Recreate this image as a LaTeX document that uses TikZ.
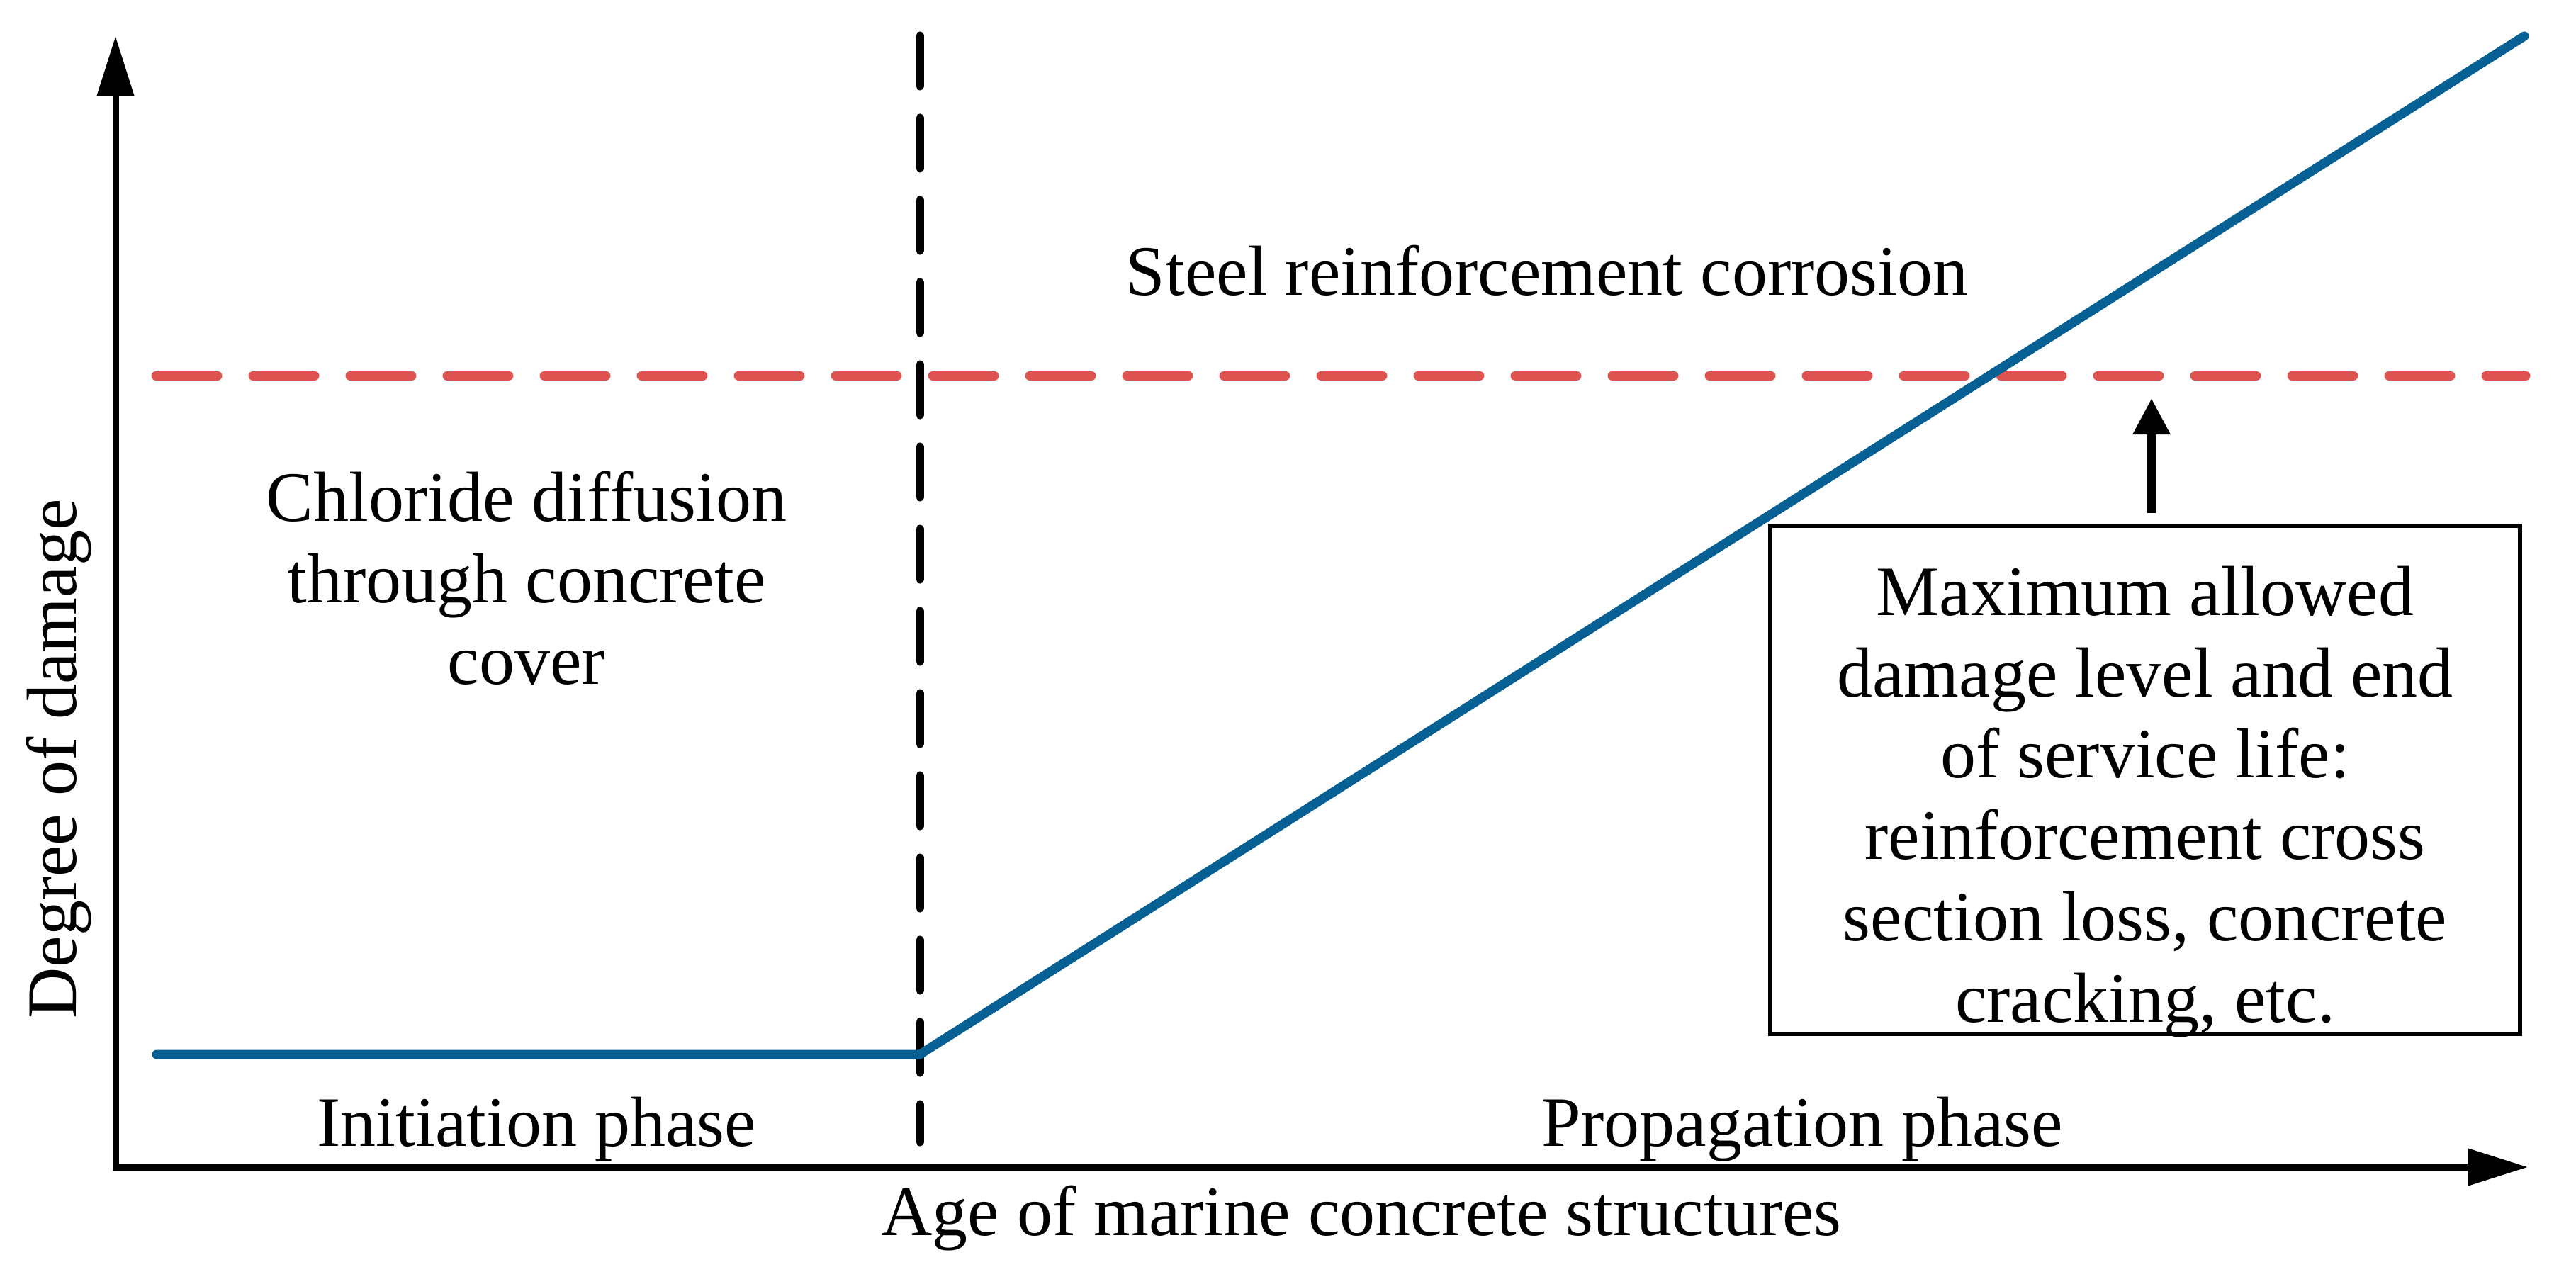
\documentclass[tikz,border=0pt]{standalone}
\usepackage{fontspec}
\setmainfont{Liberation Serif}
\usetikzlibrary{arrows.meta}
\definecolor{damageblue}{RGB}{6,96,148}
\definecolor{limitred}{RGB}{222,82,80}

\begin{document}
\begin{tikzpicture}[
    axis/.style={line width=0.09cm, line join=miter, {Triangle[length=0.85cm, width=0.51cm]}-{Triangle[length=0.85cm, width=0.51cm]}},
    phase/.style={line width=0.11cm, line cap=round, dash pattern=on 0.72cm off 0.44cm},
    limit/.style={limitred, line width=0.13cm, line cap=round, dash pattern=on 0.87cm off 0.50cm},
    damage/.style={damageblue, line width=0.13cm, line cap=round, line join=miter},
    txt/.style={font=\fontsize{28.45}{32.7}\selectfont, inner sep=0pt},
    notebox/.style={draw, line width=0.06cm, minimum width=10.58cm, minimum height=7.17cm, inner sep=0pt},
    pointer/.style={line width=0.12cm, -{Triangle[length=0.51cm, width=0.50cm]}, shorten <=0.15cm}
]
    \useasboundingbox (0,0) rectangle (36.35,17.94);

    % Axis
    \coordinate (origin) at (1.63,1.47);
    \coordinate (ytip) at (1.63,17.43);
    \coordinate (xtip) at (35.67,1.47);
    \draw[axis] (ytip) -- (origin) -- (xtip);

    % Boundary between the two phases
    \coordinate (ptop) at (12.98,17.44);
    \coordinate (pbot) at (12.98,1.82);
    \draw[phase] (ptop) -- (pbot);

    % Maximum allowed damage level
    \coordinate (lstart) at (2.20,12.64);
    \coordinate (lend) at (35.64,12.64);
    \draw[limit] (lstart) -- (lend);

    % Damage curve
    \coordinate (dstart) at (2.21,3.06);
    \coordinate (knee) at (12.98,3.06);
    \coordinate (dend) at (35.62,17.43);
    \draw[damage] (dstart) -- (knee) -- (dend);

    % Labels
    \node[txt, anchor=base] (steel) at (21.83,13.77) {Steel reinforcement corrosion};
    \node[txt, align=center] (chloride) at (7.43,9.78) {Chloride diffusion\\through concrete\\cover};
    \node[txt, anchor=base] (init) at (7.57,1.77) {Initiation phase};
    \node[txt, anchor=base] (prop) at (25.43,1.77) {Propagation phase};
    \node[txt, anchor=base] (age) at (19.21,0.51) {Age of marine concrete structures};
    \node[txt, anchor=base, rotate=90] (degree) at (1.07,7.23) {Degree of damage};

    % End of service life
    \node[notebox] (note) at (30.27,6.935) {};
    \node[txt, align=center] (notetext) at (30.27,6.625) {Maximum allowed\\damage level and end\\of service life:\\reinforcement cross\\section loss, concrete\\cracking, etc.};
    \coordinate (ltip) at (30.36,12.32);
    \draw[pointer] (ltip |- note.north) -- (ltip);
\end{tikzpicture}
\end{document}
